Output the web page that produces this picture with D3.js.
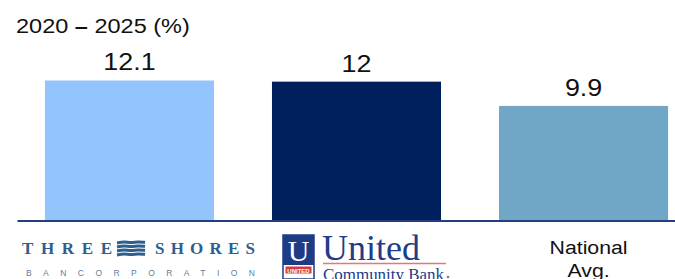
<!DOCTYPE html>
<html>
<head>
<meta charset="utf-8">
<script src="https://cdn.jsdelivr.net/npm/d3@7"></script>
<style>
  body { margin: 0; background: #fff; }
  text { font-family: "Liberation Sans", Arial, sans-serif; }
</style>
</head>
<body>
<div id="chart"></div>
<script>
// growth 2020-2025
var categories = ["Three Shores", "United", "National Avg."];
var values = [12.1, 12, 9.9];
var labels = ["12.1", "12", "9.9"];
var colors = ["#94c4fe", "#001f5d", "#70a6c6"];
var titleParts = ["2020 ", "\u2013", " 2025 (%)"];

var width = 675, height = 279;
var stretch = 1.12; // text on the slide is a bit wide

var svg = d3.select("#chart")
  .append("svg")
  .attr("width", width)
  .attr("height", height);

var x = d3.scaleBand()
  .domain(categories)
  .range([17, 696])
  .paddingInner(0.2555)
  .paddingOuter(0.123);

var y = d3.scaleLinear()
  .domain([0, 14])
  .range([220.5, 58.5]);

// bars
svg.selectAll(".bar")
  .data(values)
  .enter().append("rect")
  .attr("class", "bar")
  .attr("x", function (d, i) { return x(categories[i]); })
  .attr("y", function (d) { return y(d); })
  .attr("width", x.bandwidth())
  .attr("height", function (d) { return y(0) - y(d); })
  .style("fill", function (d, i) { return colors[i]; });

// value labels
svg.selectAll(".val")
  .data(values)
  .enter().append("text")
  .attr("class", "val")
  .attr("transform", function (d, i) {
    return "translate(" + (x(categories[i]) + x.bandwidth() / 2) + "," + (y(d) - 10) + ") scale(" + stretch + ",1)";
  })
  .attr("text-anchor", "middle")
  .style("font-size", "24px")
  .style("fill", "#111")
  .text(function (d, i) { return labels[i]; });

// baseline axis
var xAxis = d3.axisBottom(x).tickSize(0).tickFormat("");
svg.append("g")
  .attr("transform", "translate(0," + y(0) + ")")
  .call(xAxis)
  .call(function (g) {
    g.select(".domain").attr("stroke", "#22407e").attr("stroke-width", 2);
  });

// title, dash is heavier on the slide
svg.append("text")
  .attr("transform", "translate(16,33) scale(" + stretch + ",1)")
  .style("font-size", "21px")
  .style("fill", "#111")
  .selectAll("tspan")
  .data(titleParts)
  .enter().append("tspan")
  .style("font-weight", function (d, i) { return i == 1 ? "bold" : "normal"; })
  .text(function (d) { return d; });

// third category is plain text
var cx3 = x(categories[2]) + x.bandwidth() / 2 + 5;
svg.append("text")
  .attr("transform", "translate(" + cx3 + ",254) scale(" + stretch + ",1)")
  .attr("text-anchor", "middle")
  .style("font-size", "19px")
  .style("fill", "#111")
  .selectAll("tspan")
  .data(["National", "Avg."])
  .enter().append("tspan")
  .attr("x", 0)
  .attr("dy", function (d, i) { return i == 0 ? 0 : 23; })
  .text(function (d) { return d; });

// Three Shores logo (drawn as text + waves)
var ts = svg.append("g").style("fill", "#2c5f8e");
ts.append("text")
  .attr("x", 22).attr("y", 254)
  .attr("textLength", 90).attr("lengthAdjust", "spacing")
  .style("font-family", "'Liberation Serif', serif")
  .style("font-weight", "bold")
  .style("font-size", "17px")
  .text("THREE");
ts.append("text")
  .attr("x", 155).attr("y", 254)
  .attr("textLength", 100).attr("lengthAdjust", "spacing")
  .style("font-family", "'Liberation Serif', serif")
  .style("font-weight", "bold")
  .style("font-size", "17px")
  .text("SHORES");
var wave = d3.line().curve(d3.curveBasis);
[242.5, 246.5, 250.5, 254.5].forEach(function (yy) {
  ts.append("path")
    .attr("d", wave([[117, yy + 0.5], [124, yy - 1], [131, yy + 0.5], [138, yy - 1], [145, yy]]))
    .attr("fill", "none")
    .attr("stroke", "#2c5f8e")
    .attr("stroke-width", 3);
});
ts.append("text")
  .attr("x", 26).attr("y", 276)
  .attr("textLength", 229).attr("lengthAdjust", "spacing")
  .style("font-size", "8.5px")
  .style("fill", "#5a7fa3")
  .text("BANCORPORATION");

// United Community Bank logo
var ub = svg.append("g");
ub.append("rect")
  .attr("x", 283).attr("y", 235).attr("width", 31).attr("height", 44)
  .style("fill", "#fff").style("stroke", "#1e3b85").style("stroke-width", 1.5);
ub.append("rect")
  .attr("x", 283).attr("y", 235).attr("width", 31).attr("height", 30)
  .style("fill", "#1e3b85");
ub.append("text")
  .attr("x", 298.5).attr("y", 261)
  .attr("text-anchor", "middle")
  .style("font-family", "'Liberation Serif', serif")
  .style("font-size", "30px")
  .style("fill", "#fff")
  .text("U");
ub.append("rect")
  .attr("x", 285.5).attr("y", 266.5).attr("width", 26).attr("height", 7)
  .style("fill", "#d83a3a");
ub.append("text")
  .attr("x", 298.5).attr("y", 272.5)
  .attr("text-anchor", "middle")
  .style("font-size", "6px")
  .style("font-weight", "bold")
  .style("fill", "#fff")
  .text("UNITED");
ub.append("text")
  .attr("x", 322).attr("y", 260)
  .style("font-family", "'Liberation Serif', serif")
  .style("font-size", "36px")
  .style("fill", "#213c88")
  .text("United");
ub.append("line")
  .attr("x1", 323).attr("x2", 446).attr("y1", 263.5).attr("y2", 263.5)
  .style("stroke", "#e07a7a").style("stroke-width", 1.5);
ub.append("text")
  .attr("x", 323).attr("y", 280)
  .attr("textLength", 121).attr("lengthAdjust", "spacingAndGlyphs")
  .style("font-family", "'Liberation Serif', serif")
  .style("font-size", "16.5px")
  .style("fill", "#213c88")
  .text("Community Bank");
ub.append("circle")
  .attr("cx", 448).attr("cy", 277).attr("r", 1.3)
  .style("fill", "#9a7080");
</script>
</body>
</html>
